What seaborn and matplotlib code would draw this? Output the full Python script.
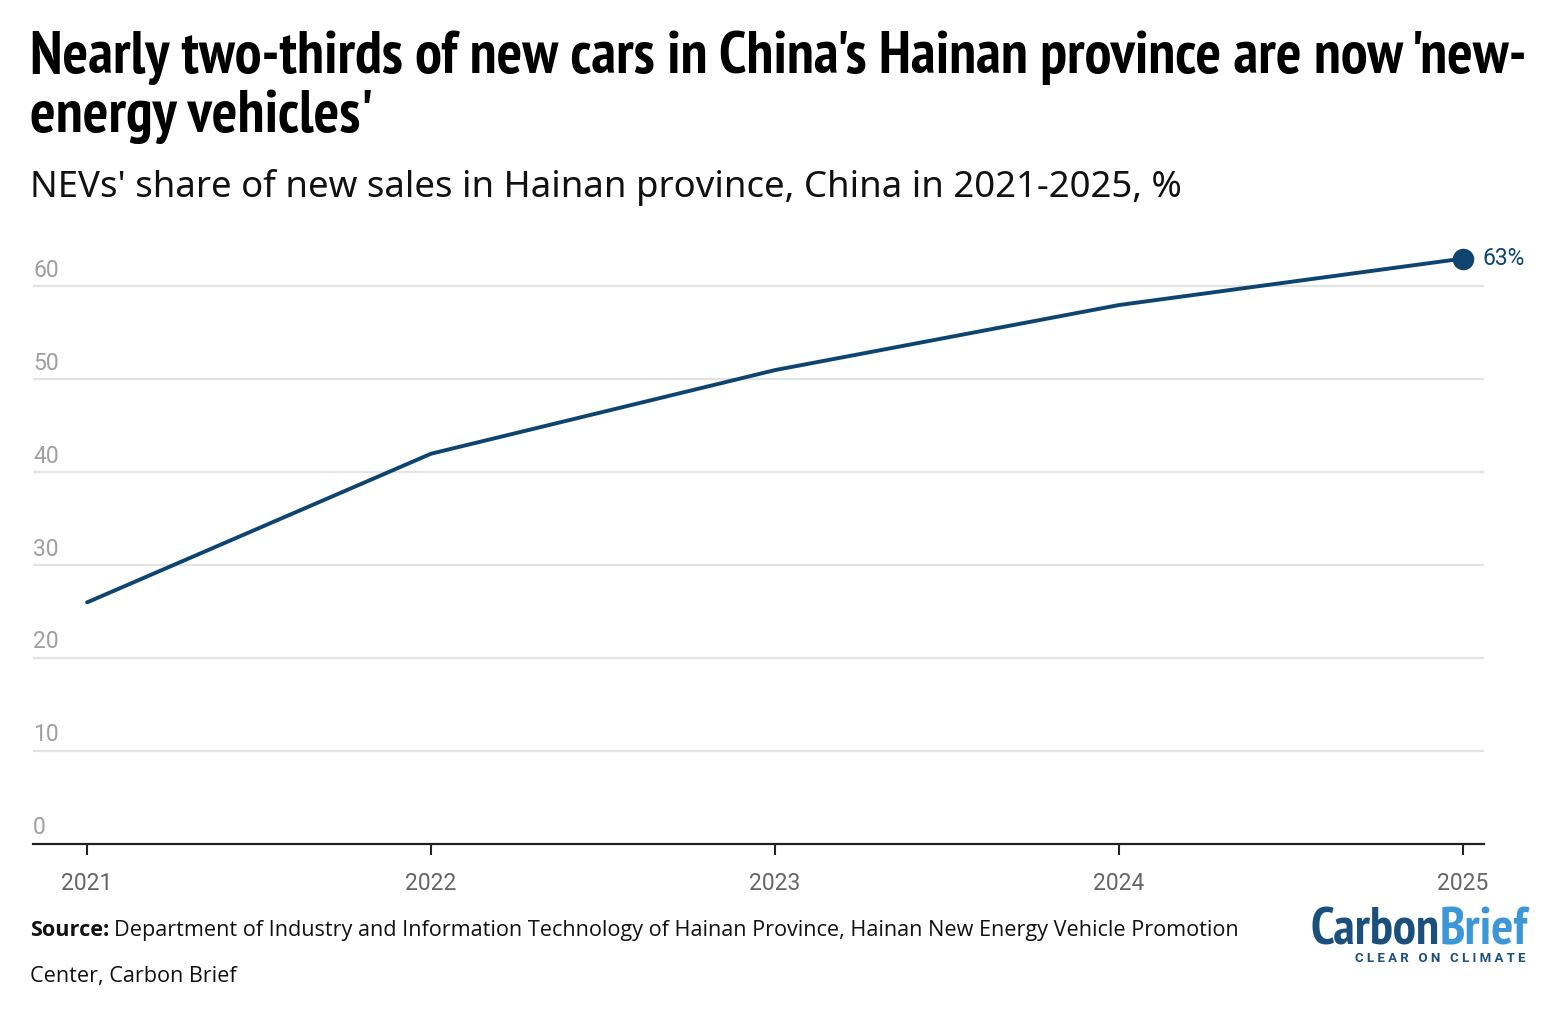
import seaborn as sns
import matplotlib.pyplot as plt
import pandas as pd

# NEV share of new car sales in Hainan
years = [2021, 2022, 2023, 2024, 2025]
share = [26, 42, 51, 58, 63]
y_ticks = [0, 10, 20, 30, 40, 50, 60]

df = pd.DataFrame({'year': years, 'share': share})

line_col = '#0e4470'
narrow = ['PT Sans Narrow', 'Roboto Condensed', 'Oswald', 'Archivo Narrow', 'Asap Condensed', 'DejaVu Sans']

sns.set_theme(style='white')
plt.rcParams['font.family'] = ['Roboto', 'DejaVu Sans']

fig = plt.figure(figsize=(15.6, 10.3), dpi=100)
ax = fig.add_axes([0.0212, 0.1806, 0.9301, 0.5864])


def fit_width(t, target_px):
    # rescale a text so it spans target_px wide
    fig.canvas.draw()
    w = t.get_window_extent().width
    t.set_fontsize(t.get_fontsize() * target_px / w)


sns.lineplot(data=df, x='year', y='share', color=line_col, linewidth=2.8, ax=ax, zorder=3)

# end point + label
ax.scatter(years[-1], share[-1], s=240, color=line_col, zorder=4, linewidths=0)
ax.annotate(f'{share[-1]}%', (years[-1], share[-1]), xytext=(14, 0),
            textcoords='offset points', va='center', ha='left',
            fontsize=16.5, color=line_col, annotation_clip=False)

ax.set_xlim(2020.843, 2025.061)
ax.set_ylim(0, 65)

# gridlines and y labels sitting above them
for v in y_ticks:
    if v > 0:
        ax.axhline(v, color='#e3e3e3', linewidth=1.6, zorder=1)
    ax.text(0.0, v + 0.5, str(v), transform=ax.get_yaxis_transform(),
            ha='left', va='bottom', fontsize=16.5, color='#a0a0a0')
ax.set_yticks([])

ax.set_xticks(years)
ax.set_xticklabels([str(y) for y in years], fontsize=16.5, color='#666666')
ax.tick_params(axis='x', length=8, width=1.5, color='#222222', pad=12, bottom=True)
ax.set_xlabel('')
ax.set_ylabel('')
for s in ['top', 'left', 'right']:
    ax.spines[s].set_visible(False)
ax.spines['bottom'].set_color('#222222')
ax.spines['bottom'].set_linewidth(1.6)

# titles
t1 = fig.text(0.019, 0.970,
              "Nearly two-thirds of new cars in China's Hainan province are now 'new-",
              family=narrow, weight='bold', fontsize=40, color='black', ha='left', va='top')
fit_width(t1, 1495)
fig.text(0.019, 0.913, "energy vehicles'",
         family=narrow, weight='bold', fontsize=t1.get_fontsize(), color='black', ha='left', va='top')
t2 = fig.text(0.019, 0.818, "NEVs' share of new sales in Hainan province, China in 2021-2025, %",
              family=['Noto Sans', 'DejaVu Sans'], fontsize=24, color='#111111',
              ha='left', va='center')
fit_width(t2, 1153)

# source
src_kw = dict(family=['Open Sans', 'Noto Sans', 'DejaVu Sans'], fontsize=15, color='#111111', va='center')
s1 = fig.text(0.019, 0.097, 'Source:', weight='bold', **src_kw)
fig.canvas.draw()
bb = s1.get_window_extent()
s2 = fig.text((bb.x1 + 5) / fig.bbox.width, 0.097,
              'Department of Industry and Information Technology of Hainan Province, Hainan New Energy Vehicle Promotion',
              **src_kw)
fig.canvas.draw()
scale = (1240 - 30) / (s2.get_window_extent().x1 - bb.x0)
s1.set_fontsize(15 * scale)
fig.canvas.draw()
bb = s1.get_window_extent()
s2.set_fontsize(15 * scale)
s2.set_x((bb.x1 + 5) / fig.bbox.width)
fig.text(0.019, 0.052, 'Center, Carbon Brief', **{**src_kw, 'fontsize': 15 * scale})

# logo
logo_kw = dict(family=narrow, weight='bold', fontsize=34, va='baseline')
c = fig.text(1310 / 1560, 0.083, 'Carbon', color='#1b4f7c', **logo_kw)
fig.canvas.draw()
cb = c.get_window_extent()
b = fig.text(cb.x1 / fig.bbox.width, 0.083, 'Brief', color='#3b97d6', **logo_kw)
fig.canvas.draw()
total = b.get_window_extent().x1 - cb.x0
c.set_fontsize(34 * 218 / total)
b.set_fontsize(34 * 218 / total)
fig.canvas.draw()
b.set_x(c.get_window_extent().x1 / fig.bbox.width)
cl = fig.text(1355 / 1560, 0.066, 'C L E A R   O N   C L I M A T E', color='#1b4f7c',
              fontsize=7, weight='bold', ha='left', va='baseline')
fit_width(cl, 170)

fig.savefig('out.png', dpi=100, facecolor='white')
